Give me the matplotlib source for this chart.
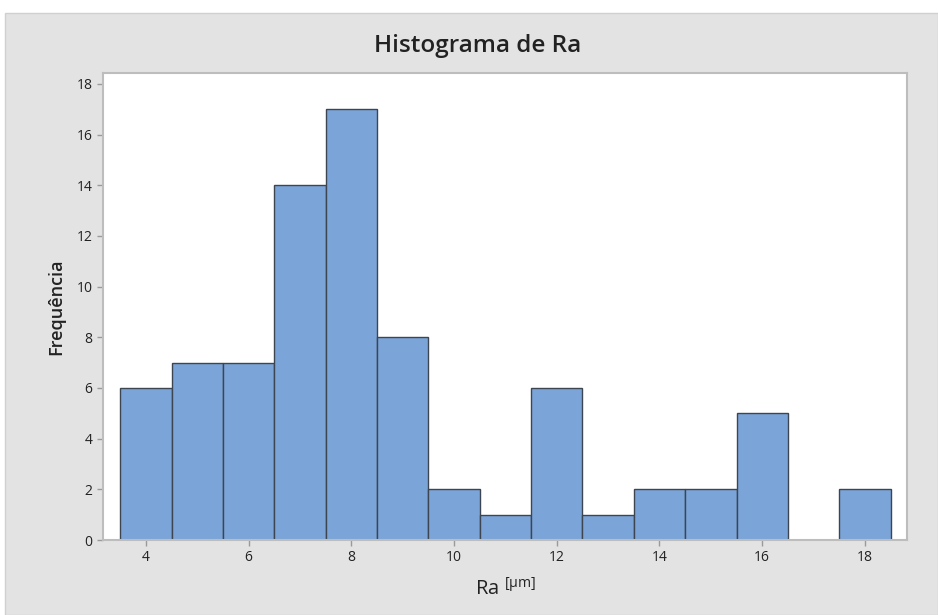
import numpy as np
import matplotlib.pyplot as plt
from matplotlib.patches import Rectangle

# Bin midpoints (width 1) and counts
bin_mids = [4, 5, 6, 7, 8, 9, 10, 11, 12, 13, 14, 15, 16, 17, 18]
counts = [6, 7, 7, 14, 17, 8, 2, 1, 6, 1, 2, 2, 5, 0, 2]
x_ticks = [4, 6, 8, 10, 12, 14, 16, 18]
y_ticks = [0, 2, 4, 6, 8, 10, 12, 14, 16, 18]

plt.rcParams['font.family'] = ['Open Sans', 'DejaVu Sans']
plt.rcParams['mathtext.fontset'] = 'custom'
plt.rcParams['mathtext.rm'] = 'Open Sans'

W, H = 938, 615
fig = plt.figure(figsize=(W / 100, H / 100), dpi=100)
fig.patch.set_facecolor('white')
# grey panel behind the plot (Minitab style)
fig.patches.append(Rectangle((5 / W, 0), 1 - 5 / W, 1 - 13 / H, transform=fig.transFigure,
                             facecolor='#e3e3e3', edgecolor='#d0d0d0', lw=1, zorder=-10))

ax = fig.add_axes([103 / W, 1 - 540 / H, (907 - 103) / W, (540 - 73) / H])
ax.set_zorder(1)
ax.set_facecolor('white')
ax.bar(bin_mids, counts, width=1.0, color='#7ba4d8', edgecolor='#3d4550', linewidth=1.0, zorder=2)

ax.set_xlim(3.163, 18.82)
ax.set_ylim(0, 18.43)
ax.set_xticks(x_ticks)
ax.set_yticks(y_ticks)

for s in ax.spines.values():
    s.set_color('#bdbdbd')
    s.set_linewidth(1.5)
ax.tick_params(colors='#9a9a9a', length=4, width=1, labelsize=10, labelcolor='#222222')

ax.set_xlabel('Ra $^{\\mathrm{[\\mu m]}}$', fontsize=14.5, color='#222222', labelpad=9)
ax.set_ylabel('Frequência', fontsize=13, color='#222222', fontweight='semibold', labelpad=8)
fig.text(478 / W, 1 - 46 / H, 'Histograma de Ra', ha='center', va='center',
         fontsize=17.5, fontweight='semibold', color='#222222')

fig.savefig('out.png', dpi=100)
